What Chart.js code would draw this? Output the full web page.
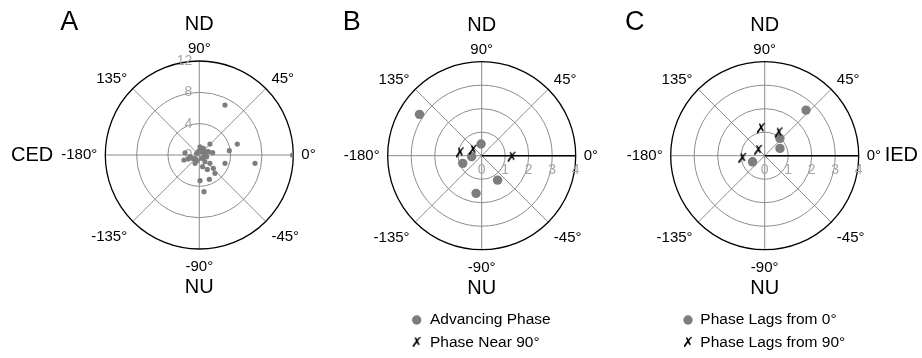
<!DOCTYPE html>
<html>
<head>
<meta charset="utf-8">
<script src="https://cdn.jsdelivr.net/npm/chart.js@4"></script>
<style>
  body { margin: 0; background: #fff; }
  #wrap { position: relative; width: 922px; height: 358px; background: #fff; }
  canvas { position: absolute; left: 0; top: 0; }
</style>
</head>
<body>
<div id="wrap">
  <canvas id="chartA" width="922" height="358"></canvas>
  <canvas id="chartB" width="922" height="358"></canvas>
  <canvas id="chartC" width="922" height="358"></canvas>
</div>
<script>
// angle tick labels, shared by all three panels
const angleTicks = [0, 45, 90, 135, 180, -135, -90, -45];
const angleLabels = ['0°', '45°', '90°', '135°', '-180°', '-135°', '-90°', '-45°'];

// radial ticks
const ringsA = [0, 4, 8, 12];
const ringsBC = [0, 1, 2, 3, 4];

// panel A: all units (angle in degrees, radius)
const aAngle = [62.8, 16.1, 8.2, -17.9, -8.5, 0, 45.8, 10, 85, 59, 171, -162, -160, -117, -50, -38, -43.5, -49.5, -67.6,
  -88.4, -82.7, -12.6, -55, -170, 148, 20.5, -74, -61, -151, 74, 8, -113, 55, 30, -30, 100, -140];
const aRadius = [7.17, 5.05, 3.87, 3.45, 7.19, 11.9, 1.95, 1.73, 1.06, 0.99, 1.85, 2.06, 1.49, 1.19, 1.11, 1.72, 2.47, 3.08, 3.36,
  3.28, 4.72, 0.96, 0.52, 1.21, 0.4, 1.23, 1.55, 2.1, 0.92, 0.73, 0.71, 0.76, 0.52, 0.9, 0.6, 0.5, 0.7];

// panel B
const bAdvAngle = [146.4, 93, -175, -158, -57, -98.5];
const bAdvRadius = [3.18, 0.5, 0.43, 0.87, 1.24, 1.62];
const bNearAngle = [174, 151, -4];
const bNearRadius = [0.93, 0.43, 1.28];

// panel C
const cLag0Angle = [47.8, 48.7, 25.5, -153.4];
const cLag0Radius = [2.62, 0.98, 0.72, 0.58];
const cLag90Angle = [98, 57.7, 143.5, -171.6];
const cLag90Radius = [1.14, 1.12, 0.34, 0.96];

const FONT = '"Liberation Sans", Arial, sans-serif';
const R = 94;

function toXY(angles, radii) {
    return angles.map((a, i) => ({
        x: radii[i] * Math.cos(a * Math.PI / 180),
        y: radii[i] * Math.sin(a * Math.PI / 180)
    }));
}

function makeCross() {
    let c = document.createElement('canvas');
    c.width = 14;
    c.height = 16;
    let g = c.getContext('2d');
    g.font = 'bold 14px "DejaVu Sans"';
    g.textAlign = 'center';
    g.textBaseline = 'middle';
    g.fillStyle = '#000';
    g.fillText('✗', 7, 8.5);
    return c;
}
const crossImg = makeCross();

const polarPlot = {
    id: 'polarPlot',
    beforeDatasetsDraw(chart, args, o) {
        let ctx = chart.ctx, xs = chart.scales.x, ys = chart.scales.y;
        let cx = xs.getPixelForValue(0), cy = ys.getPixelForValue(0);
        let rad = xs.getPixelForValue(o.max) - cx;
        ctx.save();
        ctx.lineWidth = 1;
        ctx.strokeStyle = '#8c8c8c';
        o.rings.forEach(v => {
            if (v === 0 || v === o.max) return;
            ctx.beginPath();
            ctx.arc(cx, cy, xs.getPixelForValue(v) - cx, 0, 2 * Math.PI);
            ctx.stroke();
        });
        for (let a = 0; a < 360; a += 45) {
            let t = a * Math.PI / 180;
            ctx.beginPath();
            ctx.moveTo(cx, cy);
            ctx.lineTo(cx + rad * Math.cos(t), cy - rad * Math.sin(t));
            ctx.stroke();
        }
        if (o.boldZero) {
            ctx.strokeStyle = '#000';
            ctx.lineWidth = 1.5;
            ctx.beginPath();
            ctx.moveTo(cx, cy);
            ctx.lineTo(cx + rad, cy);
            ctx.stroke();
        }
        ctx.strokeStyle = '#000';
        ctx.lineWidth = 1.3;
        ctx.beginPath();
        ctx.arc(cx, cy, rad, 0, 2 * Math.PI);
        ctx.stroke();

        // radial tick labels
        ctx.fillStyle = '#a6a6a6';
        ctx.font = '14px ' + FONT;
        o.rings.forEach(v => {
            if (o.tickSide === 'left') {
                ctx.textAlign = 'right';
                ctx.textBaseline = 'middle';
                ctx.fillText(String(v), cx - 7, ys.getPixelForValue(v));
            } else {
                ctx.textAlign = 'center';
                ctx.textBaseline = 'middle';
                ctx.fillText(String(v), xs.getPixelForValue(v), cy + 14);
            }
        });
        ctx.restore();
    },
    afterDraw(chart, args, o) {
        let ctx = chart.ctx, xs = chart.scales.x, ys = chart.scales.y;
        let cx = xs.getPixelForValue(0), cy = ys.getPixelForValue(0);
        let rad = xs.getPixelForValue(o.max) - cx;
        ctx.save();
        ctx.fillStyle = '#000';
        ctx.font = '15px ' + FONT;
        let rl = rad + 8;
        angleTicks.forEach((a, i) => {
            let t = a * Math.PI / 180, c = Math.cos(t), s = Math.sin(t);
            let x = cx + rl * c, y = cy - rl * s;
            ctx.textAlign = c > 0.1 ? 'left' : (c < -0.1 ? 'right' : 'center');
            if (s > 0.1) {
                ctx.textBaseline = 'alphabetic';
            } else if (s < -0.1) {
                ctx.textBaseline = 'alphabetic';
                y += 14;
            } else {
                ctx.textBaseline = 'middle';
            }
            ctx.fillText(angleLabels[i], x, y);
        });

        // direction names
        ctx.font = '20px ' + FONT;
        ctx.textAlign = 'center';
        ctx.textBaseline = 'middle';
        ctx.fillText('ND', cx, cy - 130.5);
        ctx.fillText('NU', cx, cy + 132.5);
        if (o.side) {
            ctx.textAlign = o.side.align;
            ctx.fillText(o.side.text, cx + o.side.dx, cy);
        }

        // panel letter
        ctx.font = '27px ' + FONT;
        ctx.textAlign = 'center';
        ctx.fillText(o.letter, cx - 130, 23);

        // legend
        if (o.legend) {
            ctx.font = '15.5px ' + FONT;
            ctx.textAlign = 'left';
            chart.data.datasets.forEach((ds, i) => {
                let y = o.legend.y[i];
                if (ds.pointStyle === crossImg) {
                    ctx.drawImage(crossImg, cx + o.legend.markDx - 7, y - 8);
                } else {
                    ctx.fillStyle = ds.backgroundColor;
                    ctx.beginPath();
                    ctx.arc(cx + o.legend.markDx, y, ds.pointRadius, 0, 2 * Math.PI);
                    ctx.fill();
                }
                ctx.fillStyle = '#000';
                ctx.fillText(ds.label, cx + o.legend.textDx, y);
            });
        }
        ctx.restore();
    }
};

function makeChart(id, cx, cy, max, datasets, extra) {
    let ctx = document.getElementById(id).getContext('2d');
    return new Chart(ctx, {
        type: 'scatter',
        data: { datasets: datasets },
        options: {
            responsive: false,
            animation: false,
            devicePixelRatio: 1,
            layout: {
                padding: { left: cx - R, right: 922 - (cx + R), top: cy - R, bottom: 358 - (cy + R) }
            },
            scales: {
                x: { type: 'linear', min: -max, max: max, display: false },
                y: { type: 'linear', min: -max, max: max, display: false }
            },
            plugins: {
                legend: { display: false },
                tooltip: { enabled: false },
                polarPlot: Object.assign({ max: max }, extra)
            }
        },
        plugins: [polarPlot]
    });
}

Chart.defaults.font.family = FONT;

makeChart('chartA', 199.3, 155, 12, [
    { label: 'Units', data: toXY(aAngle, aRadius), backgroundColor: '#7d7d7d', borderWidth: 0, pointRadius: 2.6 }
], { rings: ringsA, tickSide: 'left', letter: 'A', side: { text: 'CED', dx: -146, align: 'right' } });

makeChart('chartB', 481.7, 155.7, 4, [
    { label: 'Advancing Phase', data: toXY(bAdvAngle, bAdvRadius), backgroundColor: '#7d7d7d', borderWidth: 0, pointRadius: 4.7, order: 1 },
    { label: 'Phase Near 90°', data: toXY(bNearAngle, bNearRadius), pointStyle: crossImg, order: 0 }
], { rings: ringsBC, tickSide: 'below', boldZero: true, letter: 'B',
     legend: { markDx: -65, textDx: -51.7, y: [320, 343] } });

makeChart('chartC', 764.7, 155.7, 4, [
    { label: 'Phase Lags from 0°', data: toXY(cLag0Angle, cLag0Radius), backgroundColor: '#7d7d7d', borderWidth: 0, pointRadius: 4.7, order: 1 },
    { label: 'Phase Lags from 90°', data: toXY(cLag90Angle, cLag90Radius), pointStyle: crossImg, order: 0 }
], { rings: ringsBC, tickSide: 'below', boldZero: true, letter: 'C',
     side: { text: 'IED', dx: 120, align: 'left' },
     legend: { markDx: -76.7, textDx: -64.4, y: [320, 343] } });
</script>
</body>
</html>
